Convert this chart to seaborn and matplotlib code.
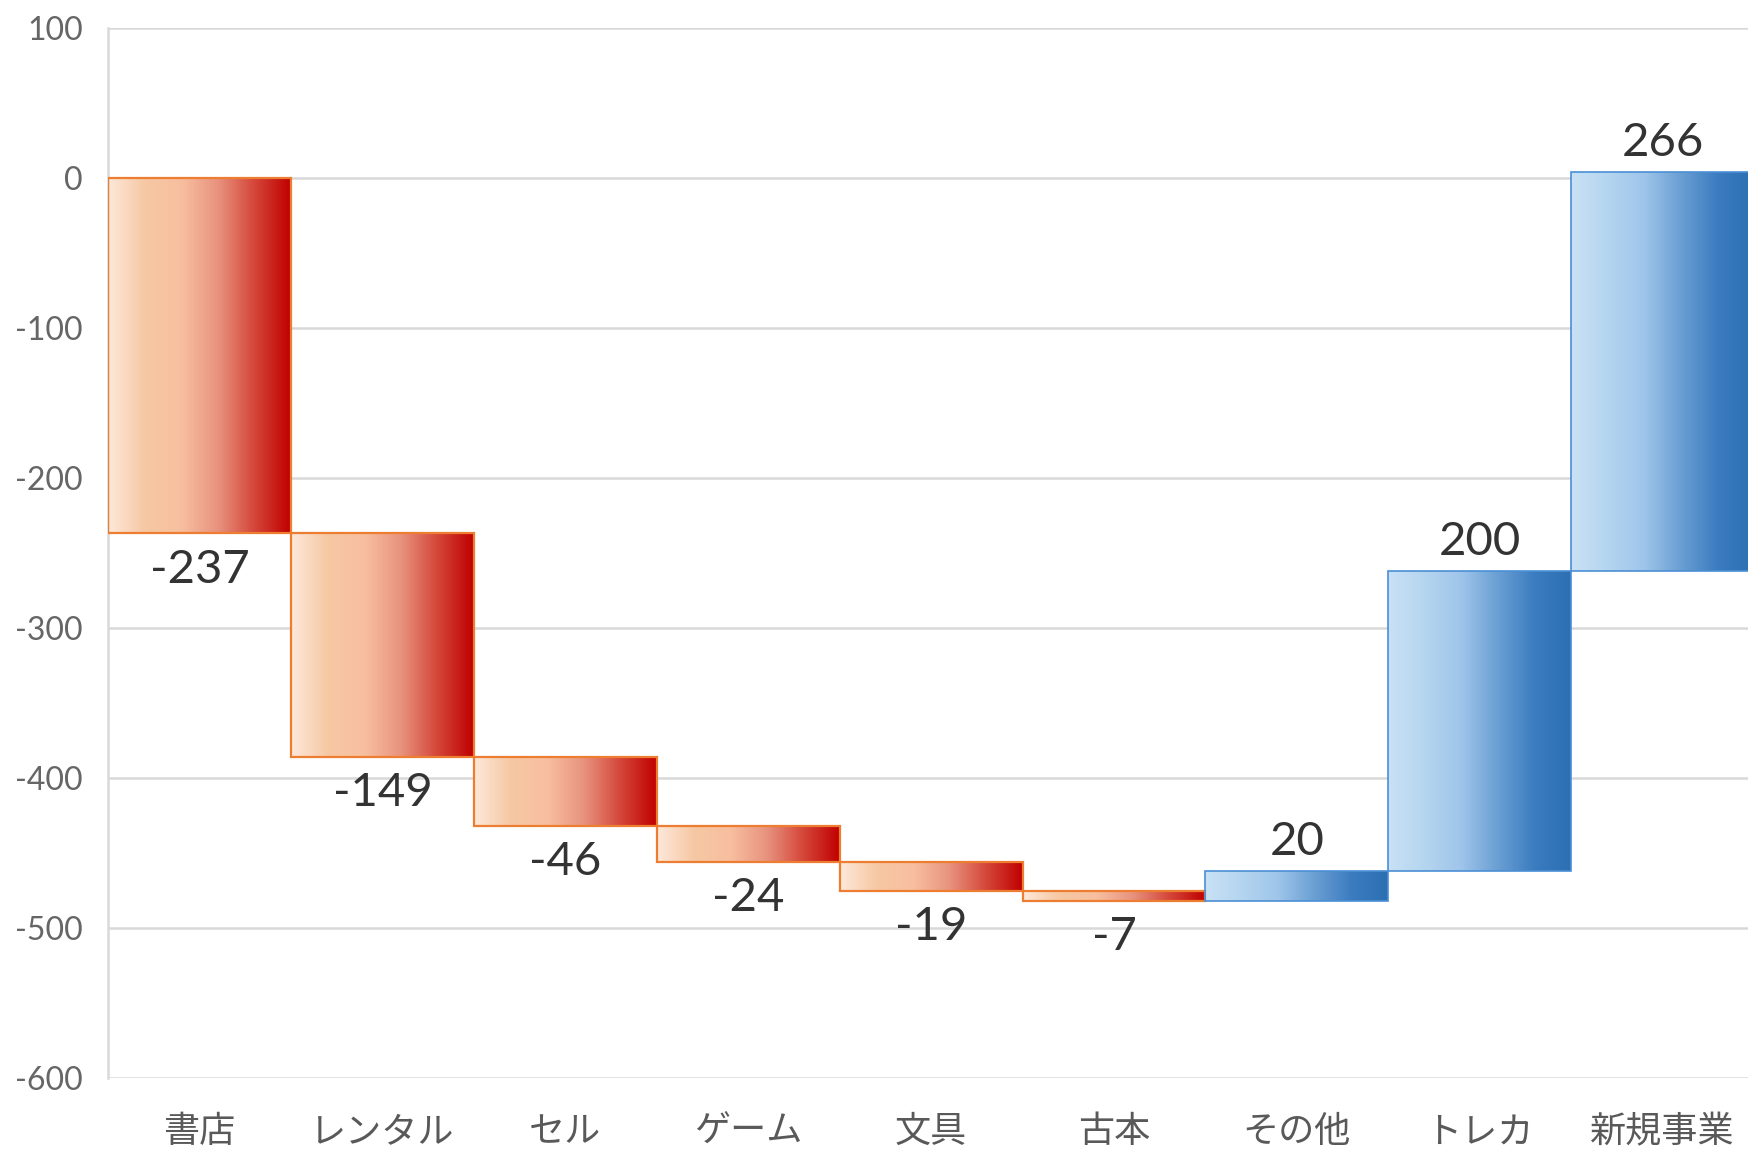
import matplotlib
matplotlib.use('Agg')
import matplotlib.pyplot as plt
from matplotlib.colors import LinearSegmentedColormap
import seaborn as sns
import numpy as np

# waterfall data
categories = ['書店', 'レンタル', 'セル', 'ゲーム', '文具', '古本', 'その他', 'トレカ', '新規事業']
changes = [-237, -149, -46, -24, -19, -7, 20, 200, 266]
y_ticks = [-600, -500, -400, -300, -200, -100, 0, 100]

# running total before each step
starts = np.concatenate([[0], np.cumsum(changes)[:-1]])

red_cmap = LinearSegmentedColormap.from_list(
    'reds', ['#fde8da', '#f6c8a4', '#f8bf9f', '#e8937f', '#d4473a', '#c00000'])
blue_cmap = LinearSegmentedColormap.from_list(
    'blues', ['#c9e1f6', '#b5d5ef', '#9fc5ea', '#6a9fd3', '#3c7cc0', '#2c6fb3'])

sns.set_theme(style='white')
plt.rcParams['font.family'] = ['Lato', 'Noto Sans CJK JP', 'DejaVu Sans']

fig = plt.figure(figsize=(17.48, 11.51), dpi=100)
ax = fig.add_axes([0.0618, 0.0634, 0.9417, 0.9123])

sns.barplot(x=categories, y=changes, order=categories, width=1.0, ax=ax,
            color='white', saturation=1)

grad = np.linspace(0, 1, 256).reshape(1, -1)
for i, patch in enumerate(ax.patches):
    val = changes[i]
    patch.set_y(starts[i])
    patch.set_height(val)
    neg = val < 0
    patch.set_facecolor('none')
    patch.set_edgecolor('#ed7d31' if neg else '#4a8fd4')
    patch.set_linewidth(1.6 if neg else 1.2)
    patch.set_zorder(3)
    x0 = patch.get_x()
    w = patch.get_width()
    lo, hi = sorted([starts[i], starts[i] + val])
    im = ax.imshow(grad, cmap=red_cmap if neg else blue_cmap, aspect='auto',
                   extent=[x0, x0 + w, lo, hi], zorder=2, interpolation='bilinear')
    im.set_clip_path(patch)

    # value label
    if neg:
        ax.annotate(str(val), (x0 + w / 2, lo), xytext=(0, -11), textcoords='offset points',
                    ha='center', va='top', fontsize=34, color='#333333')
    else:
        ax.annotate(str(val), (x0 + w / 2, hi), xytext=(0, 6), textcoords='offset points',
                    ha='center', va='bottom', fontsize=34, color='#333333')

ax.set_xlim(-0.5, len(categories) - 0.5)
ax.set_ylim(-600, 100)
ax.set_yticks(y_ticks)
ax.set_yticklabels([str(t) for t in y_ticks])
ax.yaxis.grid(True, color='#d9d9d9', linewidth=1.8, zorder=0)
ax.set_axisbelow(True)

for s in ['top', 'right', 'bottom']:
    ax.spines[s].set_visible(False)
ax.spines['left'].set_color('#d9d9d9')
ax.spines['left'].set_linewidth(1.8)

ax.tick_params(axis='y', length=0, pad=18, labelsize=23, labelcolor='#666666')
ax.tick_params(axis='x', length=0, pad=26, labelsize=26, labelcolor='#595959')
for lab in ax.get_xticklabels():
    lab.set_fontfamily(['Noto Sans CJK JP', 'DejaVu Sans'])

ax.set_xlabel('')
ax.set_ylabel('')

fig.savefig('out.png', dpi=100)
